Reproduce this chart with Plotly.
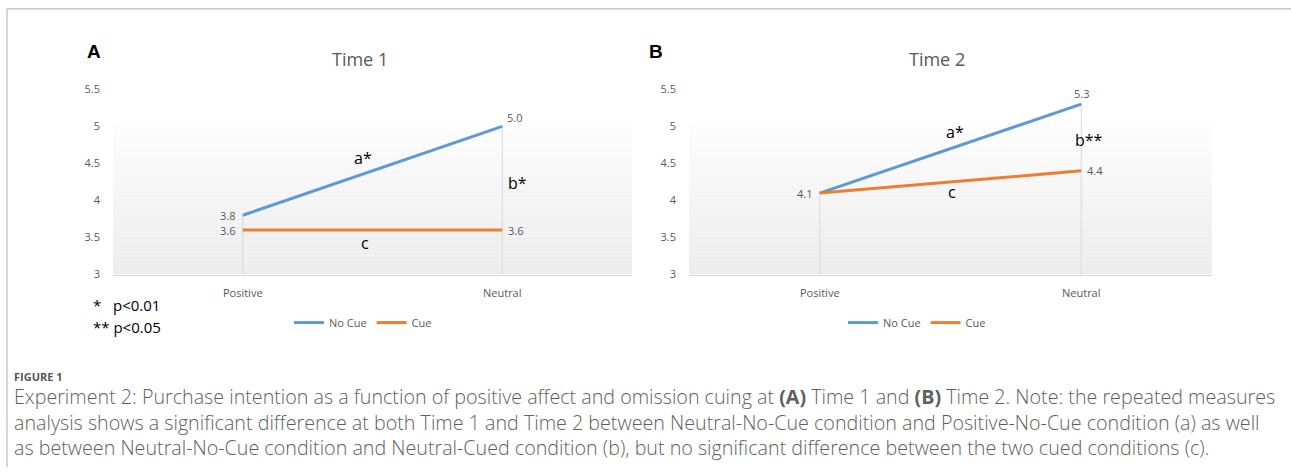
import plotly.graph_objects as go

# ---------------- data ----------------
categories = ["Positive", "Neutral"]
time1_no_cue = [3.8, 5.0]
time1_cue = [3.6, 3.6]
time2_no_cue = [4.1, 5.3]
time2_cue = [4.1, 4.4]
series_names = ["No Cue", "Cue"]
y_ticks = [3, 3.5, 4, 4.5, 5, 5.5]
y_tick_labels = ["3", "3.5", "4", "4.5", "5", "5.5"]
panel_titles = ["Time 1", "Time 2"]
panel_letters = ["A", "B"]

W, H = 1291, 474
BLUE = "#5b9bd5"
ORANGE = "#ed7d31"
GRAY_TXT = "#595959"
AX_GRAY = "#d9d9d9"
FONT = "Open Sans"

# the capture adds a small vertical offset/scale; positions below are given in
# target picture pixels and mapped into page pixels here
Y_OFF, Y_SCALE = 7.7, 0.9675


def px(x):
    return x / W


def py(t):
    y = (t - Y_OFF) / Y_SCALE
    return 1 - y / H


fig = go.Figure()

panels = [
    dict(xa="x", ya="y", xd=[px(113), px(632)], no=time1_no_cue, cue=time1_cue, legend="legend"),
    dict(xa="x2", ya="y2", xd=[px(689), px(1212)], no=time2_no_cue, cue=time2_cue, legend="legend2"),
]

ydom = [py(274), py(89)]
shapes = []
annotations = []

for i, p in enumerate(panels):
    n = 40
    y0, y1 = 3.0, 5.05
    for k in range(n):
        t = k / (n - 1)
        c = int(round(236 + (253 - 236) * t))
        shapes.append(dict(type="rect", xref=p["xa"] + " domain", yref=p["ya"],
                           x0=0, x1=1, y0=y0 + (y1 - y0) * k / n, y1=y0 + (y1 - y0) * (k + 1) / n,
                           fillcolor=f"rgb({c},{c},{c})", line=dict(width=0), layer="below"))
    dx, dy = [], []
    for j, cat in enumerate(categories):
        dx += [cat, cat, None]
        dy += [y_ticks[0], max(p["no"][j], p["cue"][j]), None]
    fig.add_trace(go.Scatter(x=dx, y=dy, xaxis=p["xa"], yaxis=p["ya"], mode="lines",
                             line=dict(color=AX_GRAY, width=1), showlegend=False, hoverinfo="skip"))
    fig.add_trace(go.Scatter(x=categories, y=p["no"], xaxis=p["xa"], yaxis=p["ya"], mode="lines",
                             name=series_names[0], line=dict(color=BLUE, width=3), legend=p["legend"]))
    fig.add_trace(go.Scatter(x=categories, y=p["cue"], xaxis=p["xa"], yaxis=p["ya"], mode="lines",
                             name=series_names[1], line=dict(color=ORANGE, width=3), legend=p["legend"]))

lab_font = dict(family=FONT, size=11, color=GRAY_TXT)


def dlabel(xa, ya, x, y, pos):
    if pos == "left":
        annotations.append(dict(xref=xa, yref=ya, x=x, y=y, text=f"{y:.1f}", showarrow=False,
                                xanchor="right", yanchor="middle", xshift=-6, font=lab_font))
    elif pos == "right":
        annotations.append(dict(xref=xa, yref=ya, x=x, y=y, text=f"{y:.1f}", showarrow=False,
                                xanchor="left", yanchor="middle", xshift=4, font=lab_font))
    elif pos == "above":
        annotations.append(dict(xref=xa, yref=ya, x=x, y=y, text=f"{y:.1f}", showarrow=False,
                                xanchor="center", yanchor="bottom", yshift=1, font=lab_font))
    elif pos == "aboveright":
        annotations.append(dict(xref=xa, yref=ya, x=x, y=y, text=f"{y:.1f}", showarrow=False,
                                xanchor="left", yanchor="bottom", xshift=3, yshift=-1, font=lab_font))


dlabel("x", "y", categories[0], time1_no_cue[0], "left")
dlabel("x", "y", categories[1], time1_no_cue[1], "aboveright")
dlabel("x", "y", categories[0], time1_cue[0], "left")
dlabel("x", "y", categories[1], time1_cue[1], "right")
dlabel("x2", "y2", categories[0], time2_no_cue[0], "left")
dlabel("x2", "y2", categories[1], time2_no_cue[1], "above")
dlabel("x2", "y2", categories[1], time2_cue[1], "right")

sig_font = dict(family=FONT, size=16, color="#000000")
for xa, ya, x, y, t in [
    ("x", "y", 0.463, 4.57, "a*"), ("x", "y", 1.06, 4.23, "b*"), ("x", "y", 0.47, 3.42, "c"),
    ("x2", "y2", 0.517, 4.93, "a*"), ("x2", "y2", 1.03, 4.82, "b**"), ("x2", "y2", 0.506, 4.11, "c"),
]:
    annotations.append(dict(xref=xa, yref=ya, x=x, y=y, text=t, showarrow=False,
                            xanchor="center", yanchor="middle", font=sig_font))

for tx, t in zip([360, 937], panel_titles):
    annotations.append(dict(xref="paper", yref="paper", x=px(tx), y=py(59), text=t, showarrow=False,
                            xanchor="center", yanchor="middle",
                            font=dict(family=FONT, size=18, color=GRAY_TXT)))
for lx, t in zip([94, 656], panel_letters):
    annotations.append(dict(xref="paper", yref="paper", x=px(lx), y=py(51), text=f"<b>{t}</b>",
                            showarrow=False, xanchor="center", yanchor="middle",
                            font=dict(family="Liberation Sans", size=19, color="#000000")))

for yy, t in [(304, "*&nbsp;&nbsp;&nbsp;p<0.01"), (326, "**&nbsp;p<0.05")]:
    annotations.append(dict(xref="paper", yref="paper", x=px(91), y=py(yy), text=t, showarrow=False,
                            xanchor="left", yanchor="middle",
                            font=dict(family=FONT, size=15, color="#000000")))

annotations.append(dict(xref="paper", yref="paper", x=px(12), y=py(376), text="<b>FIGURE 1</b>",
                        showarrow=False, xanchor="left", yanchor="middle",
                        font=dict(family=FONT, size=11, color="#555555")))
cap_lines = [
    "Experiment 2: Purchase intention as a function of positive affect and omission cuing at <b>(A)</b> Time 1 and <b>(B)</b> Time 2. Note: the repeated measures",
    "analysis shows a significant difference at both Time 1 and Time 2 between Neutral-No-Cue condition and Positive-No-Cue condition (a) as well",
    "as between Neutral-No-Cue condition and Neutral-Cued condition (b), but no significant difference between the two cued conditions (c).",
]
annotations.append(dict(xref="paper", yref="paper", x=px(12), y=py(421), text="<br>".join(cap_lines),
                        showarrow=False, xanchor="left", yanchor="middle", align="left",
                        font=dict(family=FONT, size=19.7, weight=300, color="#5f5f5f")))

# frame (top and left rules)
shapes.append(dict(type="line", xref="paper", yref="paper", x0=px(7), x1=1, y0=1 - 0.8 / H, y1=1 - 0.8 / H,
                   line=dict(color="#c8c8c8", width=1.5)))
shapes.append(dict(type="line", xref="paper", yref="paper", x0=px(7), x1=px(7), y0=1 - 0.8 / H, y1=0,
                   line=dict(color="#c8c8c8", width=1.5)))

xaxis_common = dict(type="category", categoryorder="array", categoryarray=categories,
                    range=[-0.5, 1.5], showgrid=False, zeroline=False, showline=True,
                    linecolor=AX_GRAY, linewidth=1, ticks="", ticklabelstandoff=8,
                    tickfont=dict(family=FONT, size=11, color=GRAY_TXT), fixedrange=True)
yaxis_common = dict(range=[3, 5.5], tickvals=y_ticks, ticktext=y_tick_labels, showgrid=False,
                    zeroline=False, showline=False, ticks="", ticklabelstandoff=12,
                    tickfont=dict(family=FONT, size=11, color=GRAY_TXT), domain=ydom, fixedrange=True)

legend_common = dict(orientation="h", xanchor="center", yanchor="middle", bgcolor="rgba(0,0,0,0)",
                     font=dict(family=FONT, size=11, color=GRAY_TXT), itemwidth=30,
                     tracegroupgap=0, itemclick=False)

fig.update_layout(
    width=W, height=H, margin=dict(l=0, r=0, t=0, b=0),
    paper_bgcolor="white", plot_bgcolor="rgba(0,0,0,0)",
    xaxis=dict(domain=panels[0]["xd"], anchor="y", **xaxis_common),
    yaxis=dict(anchor="x", **yaxis_common),
    xaxis2=dict(domain=panels[1]["xd"], anchor="y2", **xaxis_common),
    yaxis2=dict(anchor="x2", **yaxis_common),
    legend=dict(x=px(363), y=py(322), **legend_common),
    legend2=dict(x=px(917), y=py(322), **legend_common),
    shapes=shapes, annotations=annotations, showlegend=True,
)

fig.write_html("out.html", config={"displayModeBar": False},
               post_script="document.body.style.margin='0';document.body.style.overflow='hidden';")
